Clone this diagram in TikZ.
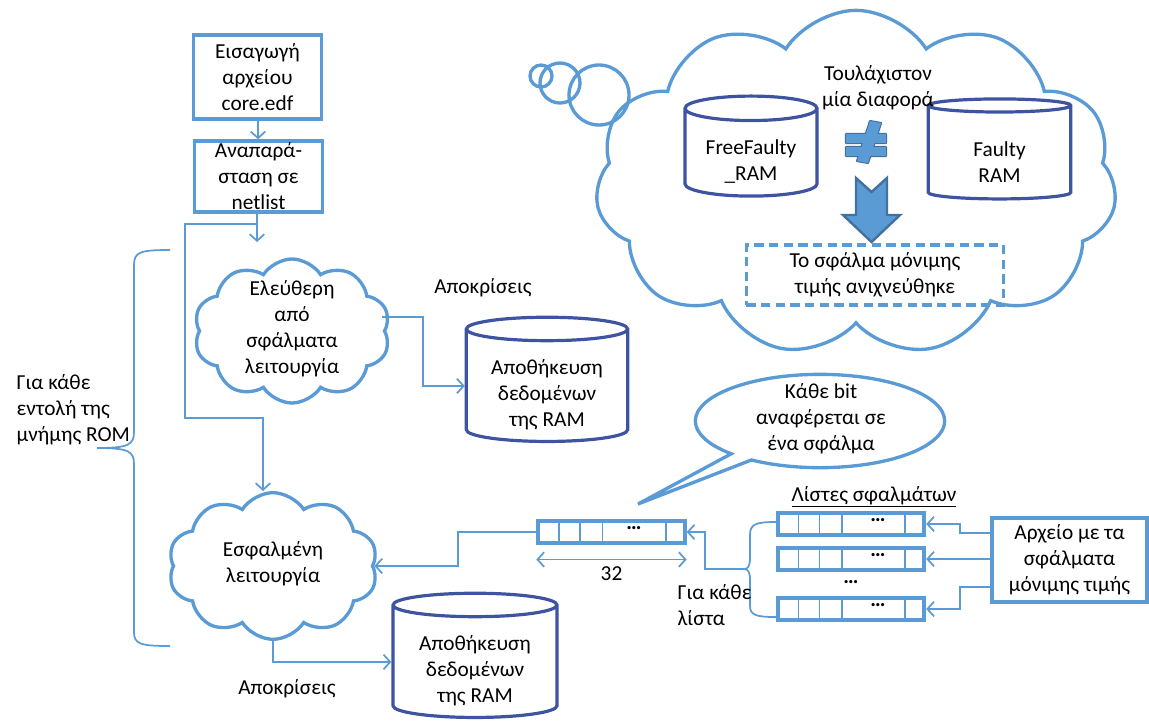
\documentclass[tikz,border=0pt]{standalone}
\usepackage{fontspec}
\setmainfont{Carlito}
\usetikzlibrary{shapes.geometric,shapes.symbols,shapes.callouts,arrows.meta,positioning,calc}
\definecolor{lblue}{RGB}{91,155,213}
\definecolor{dblue}{RGB}{62,84,160}
\definecolor{sblue}{RGB}{65,113,156}
\newcommand{\dbtop}{\rule{0pt}{24pt}}
\tikzset{
  stepbox/.style={draw=lblue,line width=2.8pt,align=center,inner sep=0pt,minimum width=96pt},
  ramdb/.style={cylinder,shape border rotate=90,aspect=#1,draw=dblue,line width=2.4pt,align=center,inner sep=0pt},
  proc/.style={cloud,cloud puffs=#1,cloud puff arc=115,draw=lblue,line width=2.5pt,inner sep=0pt},
  regbox/.style={draw=lblue,line width=2.8pt,minimum width=110pt,minimum height=16pt,inner sep=0pt},
  arr/.style={-{Straight Barb[length=5pt,width=11pt]},draw=lblue,line width=1.3pt},
  brace/.style={draw=lblue,line width=1.3pt},
}
\begin{document}
\begin{tikzpicture}[x=0.75pt,y=-0.75pt,font=\fontsize{16pt}{19.5pt}\selectfont]
\useasboundingbox (0,0) rectangle (1149,722);

% input chain
\node[stepbox,minimum height=63pt] (imp) at (257.5,77) {Εισαγωγή\\αρχείου\\core.edf};
\node[stepbox,minimum height=53pt] (netl) at (258.5,176.5) {Αναπαρά-\\σταση σε\\netlist};
\draw[arr] (imp) -- (netl);
\coordinate (split) at (257,224);
\coordinate (gofree) at (257,242);
\draw[arr] (netl.south -| gofree) -- (gofree);

% fault free run
\node[proc=10,minimum width=147pt,minimum height=108pt] (freeop) at (292,331) {};
\node[align=center] (freetxt) at (292,329) {Ελεύθερη\\από\\σφάλματα\\λειτουργία};
\node[ramdb=0.21,minimum width=121pt,minimum height=86pt] (ramfree) at (547,386) {\dbtop Αποθήκευση\\δεδομένων\\της RAM};
\node (resp1) at (483,288) {Αποκρίσεις};
\draw[arr] ($(freeop.east)+(-4,-14)$) -| ($(ramfree.west)+(-42,0)$) -- (ramfree.west);

% faulty run
\node[proc=10,minimum width=157pt,minimum height=110pt] (faultop) at (273,566) {};
\node[align=center] (faulttxt) at (273,564) {Εσφαλμένη\\λειτουργία};
\coordinate (bend) at (185,418);
\coordinate (tofault) at (263,418);
\draw[arr] (split) -| (bend) -- (tofault) -- (tofault |- faultop.north);
\node[ramdb=0.21,minimum width=123pt,minimum height=88pt] (ramfault) at (475,662) {\dbtop Αποθήκευση\\δεδομένων\\της RAM};
\node (resp2) at (287,689) {Αποκρίσεις};
\draw[arr] (faultop.south) |- (ramfault.west);

% brace for every ROM instruction
\draw[brace] (170,250) .. controls (140,250) and (134,252) .. (134,265) -- (134,432) .. controls (134,445) and (128,448) .. (97,448);
\draw[brace] (97,448) .. controls (128,448) and (134,451) .. (134,464) -- (134,632) .. controls (134,644) and (140,646) .. (170,646);
\node[align=left,anchor=west] (romtxt) at (12,410) {Για κάθε\\εντολή της\\μνήμης ROM};

% 32 bit word
\node[regbox] (bits) at (611.5,532) {};
\foreach \f in {0.15,0.29,0.44,0.86}
  \draw[lblue,line width=1.3pt] ($(bits.north west)!\f!(bits.north east)$) -- ($(bits.south west)!\f!(bits.south east)$);
\node[inner sep=0pt] (bitsdots) at ($(bits.west)!0.65!(bits.east)+(0,-4)$) {\textbf{…}};
\draw[{Straight Barb[length=5pt,width=11pt]}-{Straight Barb[length=5pt,width=11pt]},lblue,line width=1.3pt]
  ($(bits.south west)+(0,15)$) -- node[below=1pt,text=black] (wid) {32} ($(bits.south east)+(0,15)$);
\draw[arr] (bits.west) -- (458,532) |- (faultop.east);

% callout
\node[ellipse callout,draw=lblue,line width=2.5pt,minimum width=187pt,minimum height=70pt,
  callout absolute pointer={(638,504)},callout pointer arc=12] (bubble) at (820,421) {};
\node[align=center] (bubbletxt) at (821,419) {Κάθε bit\\αναφέρεται σε\\ένα σφάλμα};

% fault lists
\node[anchor=south] (lsthead) at (874,512) {\underline{Λίστες σφαλμάτων}};
\foreach \name/\yy in {lst1/524,lst2/559,lst3/609}{
  \node[regbox] (\name) at (851,\yy) {};
  \foreach \f in {0.15,0.29,0.44,0.86}
    \draw[lblue,line width=1.3pt] ($(\name.north west)!\f!(\name.north east)$) -- ($(\name.south west)!\f!(\name.south east)$);
  \node[inner sep=0pt] (\name-dots) at ($(\name.west)!0.68!(\name.east)+(0,-4)$) {\textbf{…}};
}
\node[inner sep=0pt] (lstdots) at (851,582) {\textbf{…}};
\coordinate (lsttip) at (744,569);
\draw[brace] (lst1.west) ++(0,-2) .. controls (756,522) and (750,524) .. (750,535) -- (750,558) .. controls (750,566) and (748,569) .. (lsttip);
\draw[brace] (lsttip) .. controls (748,569) and (750,572) .. (750,580) -- (750,606) .. controls (750,615) and (756,617) .. ($(lst3.west)+(0,8)$);
\node[align=left,anchor=west] (perlist) at (673,605) {Για κάθε\\λίστα};
\draw[arr] (lsttip) -- (705,569) |- (bits.east);

\node[stepbox,minimum width=116pt,minimum height=63pt] (faults) at (1069.5,560) {Αρχείο με τα\\σφάλματα\\μόνιμης τιμής};
\draw[arr] ($(faults.west)+(0,-27)$) -- (960,533) |- (lst1.east);
\draw[arr] (faults.west |- lst2.east) -- (lst2.east);
\draw[arr] ($(faults.west)+(0,27)$) -- (960,587) |- (lst3.east);

% comparison cloud
\node[proc=11,minimum width=391pt,minimum height=259pt] (bigcloud) at (856,183) {};
\draw[lblue,line width=2.5pt] (541,76) circle[radius=11] (560,83) circle[radius=20] (599,95) circle[radius=30];
\node[ramdb=0.27,minimum width=99pt,minimum height=75pt] (freeram) at (751,153) {\dbtop FreeFaulty\\\_RAM};
\node[ramdb=0.25,minimum width=107pt,minimum height=75pt] (faultram) at (999.5,153) {\dbtop Faulty\\RAM};
\node[align=center] (onediff) at (878,88) {Τουλάχιστον\\μία διαφορά};
% not-equal sign
\draw[sblue,line width=1.6pt,line join=round] (846,134) rectangle (886,143) (846,147) rectangle (886,156)
  (870,121) -- (881,123) -- (868,163) -- (857,161) -- cycle;
\fill[lblue] (870,121) -- (881,123) -- (868,163) -- (857,161) -- cycle;
\fill[lblue] (846,134) rectangle (886,143);
\fill[lblue] (846,147) rectangle (886,156);
% block arrow
\draw[sblue,fill=lblue,line width=1.8pt] (856,178) -- (871.5,192) -- (887,178) -- (887,215) -- (900,215)
  -- (871.5,242) -- (843,215) -- (856,215) -- cycle;
\node[draw=lblue,line width=2.6pt,dash pattern=on 7pt off 4pt,minimum width=193pt,minimum height=45pt,align=center] (detect) at (875,275) {Το σφάλμα μόνιμης\\τιμής ανιχνεύθηκε};
\end{tikzpicture}
\end{document}
